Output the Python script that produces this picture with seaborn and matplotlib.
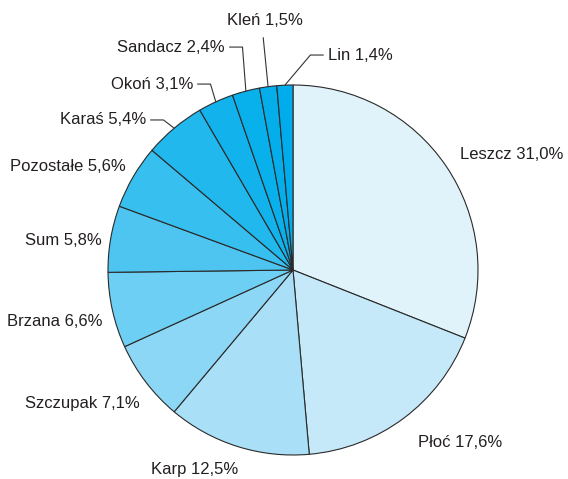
import numpy as np
import seaborn as sns
import matplotlib.pyplot as plt

species = ["Leszcz", "Płoć", "Karp", "Szczupak", "Brzana", "Sum",
           "Pozostałe", "Karaś", "Okoń", "Sandacz", "Kleń", "Lin"]
shares = [31.0, 17.6, 12.5, 7.1, 6.6, 5.8, 5.6, 5.4, 3.1, 2.4, 1.5, 1.4]
pct_labels = ["31,0%", "17,6%", "12,5%", "7,1%", "6,6%", "5,8%",
              "5,6%", "5,4%", "3,1%", "2,4%", "1,5%", "1,4%"]

colors = ["#e0f3fb", "#c6e9f9", "#a9e0f8", "#8bd7f5", "#6dcff4", "#4dc5f0",
          "#37bfef", "#20b8ed", "#12b3ec", "#08b0ec", "#03aeeb", "#00acec"]

# label placement (data units, pie radius = 1): x, y, ha, leader type
layout = {
    "Leszcz":    (0.903, 0.622, "left", None),
    "Płoć":      (0.676, -0.935, "left", None),
    "Karp":      (-0.530, -1.081, "center", None),
    "Szczupak":  (-0.827, -0.724, "right", None),
    "Brzana":    (-1.032, -0.281, "right", None),
    "Sum":       (-1.032, 0.162, "right", None),
    "Pozostałe": (-0.903, 0.557, "right", None),
    "Karaś":     (-0.795, 0.811, "right", "elbow"),
    "Okoń":      (-0.541, 1.005, "right", "elbow"),
    "Sandacz":   (-0.368, 1.205, "right", "elbow"),
    "Kleń":      (-0.151, 1.351, "center", "down"),
    "Lin":       (0.189, 1.162, "left", "elbow"),
}

sns.set_style("white")
plt.rcParams["font.family"] = ["Liberation Sans", "DejaVu Sans"]

fig = plt.figure(figsize=(5.68, 4.79), dpi=100)
ax = fig.add_axes([0, 0, 1, 1])

wedges, _ = ax.pie(shares, colors=colors, startangle=90, counterclock=False,
                   radius=1, wedgeprops=dict(edgecolor="#2a2a2a", linewidth=0.8))

txt_color = "#231f20"
cum = np.cumsum([0] + shares)
for i, name in enumerate(species):
    x, y, ha, leader = layout[name]
    ax.text(x, y, f"{name} {pct_labels[i]}", ha=ha, va="center",
            fontsize=12, color=txt_color)
    if leader is None:
        continue
    mid = 90 - 360 * (cum[i] + cum[i + 1]) / 2 / sum(shares)
    px, py = np.cos(np.radians(mid)), np.sin(np.radians(mid))
    if leader == "down":
        ax.plot([x - 0.01, px], [y - 0.095, py], color="#333333", lw=0.8)
    else:
        s = 1 if ha == "right" else -1
        x0 = x + s * 0.025
        x1 = x + s * 0.095
        ax.plot([x0, x1, px], [y, y, py], color="#333333", lw=0.8)

ax.set_xlim(-293 / 185, (568 - 293) / 185)
ax.set_ylim(-(479 - 270) / 185, 270 / 185)
ax.set_aspect("equal", adjustable="box")
ax.axis("off")

fig.savefig("out.png", dpi=100)
